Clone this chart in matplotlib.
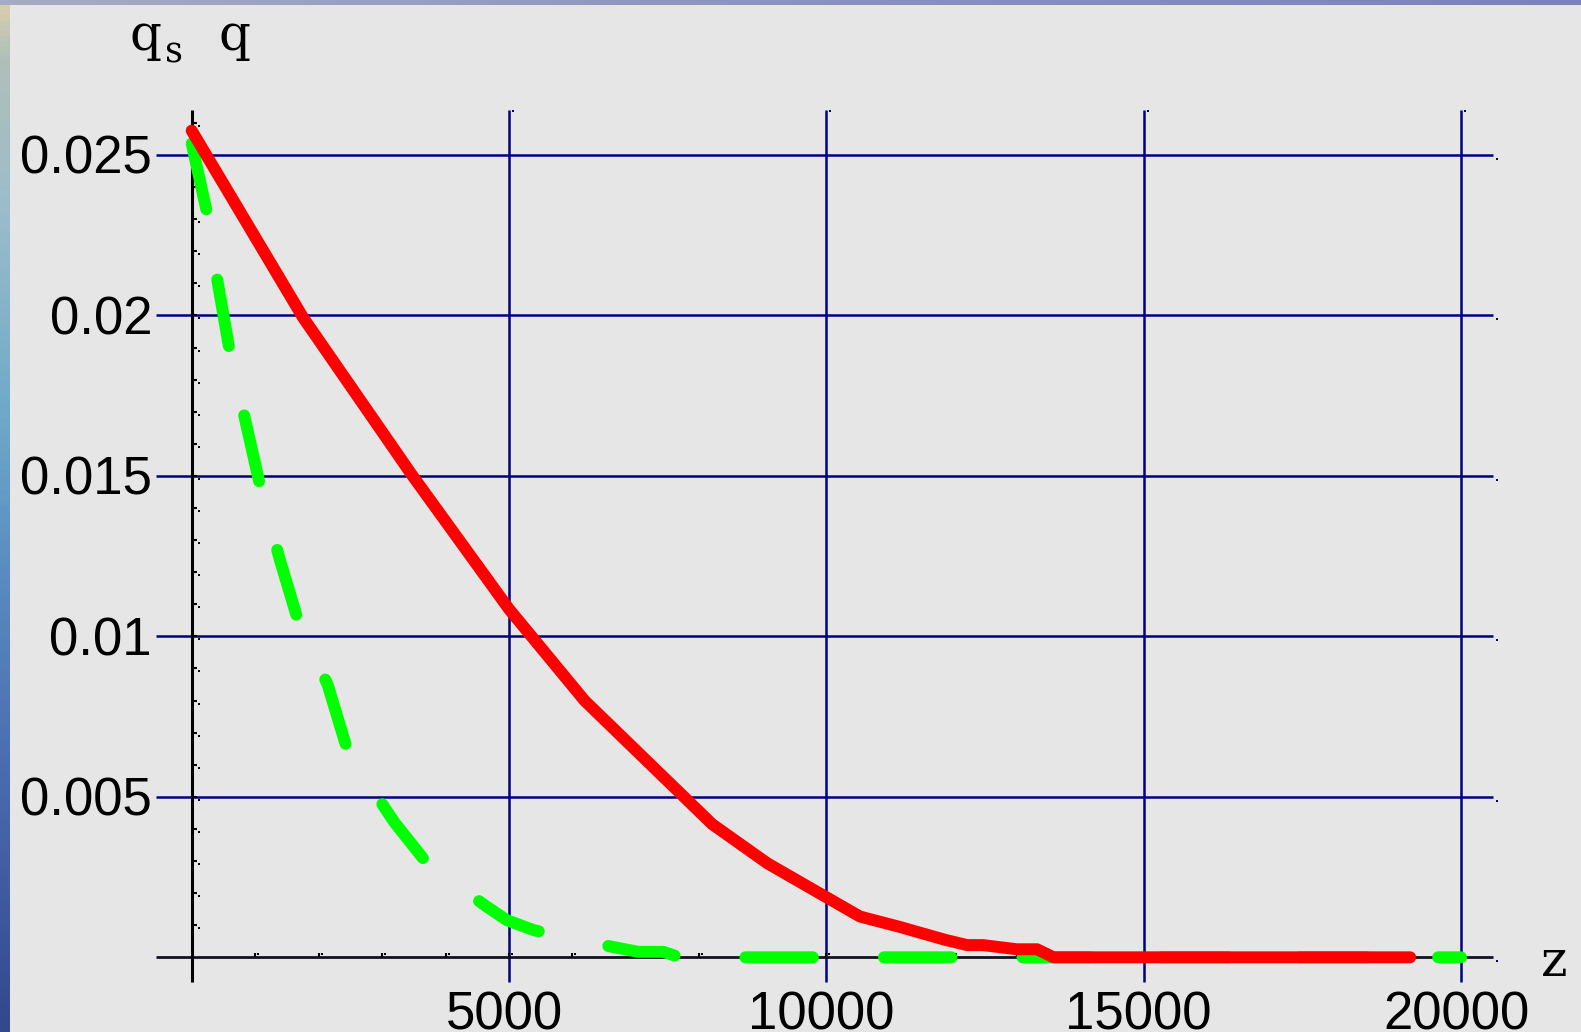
"""q_s and q versus z, Maple-style plot on a slide background."""

import matplotlib

matplotlib.use("Agg")
import matplotlib.pyplot as plt
import numpy as np
from matplotlib.colors import LinearSegmentedColormap

# curve values
red_z = [0, 1750, 3460, 5000, 6190, 8200, 9070, 10530, 11150, 11880,
         12220, 12470, 13000, 13320, 13580, 19200]
red_q = [0.02576, 0.01995, 0.01506, 0.01085, 0.00800, 0.00415, 0.00293,
         0.00127, 0.00095, 0.00054, 0.00038, 0.00038, 0.00025, 0.00025,
         0.0, 0.0]
green_z = [0, 246, 410, 588, 829, 1087, 1380, 1680, 2143, 2468, 3098, 3204,
           3728, 4648, 4963, 5383, 5646, 6618, 7037, 7431, 7694, 20000]
green_q = [0.02536, 0.02316, 0.02103, 0.01901, 0.01687, 0.01461, 0.01245,
           0.01046, 0.00849, 0.00636, 0.00449, 0.00418, 0.00288, 0.00158,
           0.00116, 0.00085, 0.00073, 0.00033, 0.00017, 0.00017, 0.0, 0.0]
x_ticks = [5000, 10000, 15000, 20000]
x_labels = ["5000", "10000", "15000", "20000"]
y_ticks = [0.005, 0.01, 0.015, 0.02, 0.025]
y_labels = ["0.005", "0.01", "0.015", "0.02", "0.025"]

W, H = 1581, 1032
X0, SX = 191.7, 0.063465      # px of z=0, px per z unit
Y0, SY = 957.3, 32092.0       # px of q=0, px per q unit


def zx(px):
    return (px - X0) / SX


def qy(py):
    return (Y0 - py) / SY


fig = plt.figure(figsize=(W / 100, H / 100), dpi=100, facecolor="#e6e6e6")

# slide background bits: sea strip at left, band on top
strip = fig.add_axes([0, 0, 10 / W, 1])
sea = LinearSegmentedColormap.from_list(
    "sea", [(0, "#d9cfae"), (0.05, "#b0c0b8"), (0.2, "#9cbccb"), (0.4, "#6fa9c8"),
            (0.55, "#5b8cc0"), (0.75, "#4a6cae"), (1, "#34488c")])
strip.imshow(np.linspace(0, 1, 200)[:, None], cmap=sea, aspect="auto")
strip.axis("off")
band = fig.add_axes([0, 1 - 5 / H, 1, 5 / H])
top = LinearSegmentedColormap.from_list("top", ["#a4acc4", "#8a92c0", "#7b82bb"])
band.imshow(np.linspace(0, 1, 200)[None, :], cmap=top, aspect="auto")
band.axis("off")

ax = fig.add_axes([0, 0, 1, 1])
ax.set_xlim(zx(0), zx(W))
ax.set_ylim(qy(H), qy(0))
ax.axis("off")
ax.patch.set_alpha(0)

navy = "#000080"
left, right = zx(156), zx(1493)
bottom, upper = qy(982), qy(110)
ax.hlines(y_ticks, left, right, color=navy, lw=1.8, zorder=1)
ax.vlines(x_ticks, bottom, upper, color=navy, lw=1.8, zorder=1)
ax.hlines(0, left, right, color="#111122", lw=2.0, zorder=2)
ax.vlines(0, bottom, upper, color="black", lw=2.2, zorder=2)

# little Maple tick marks and dots
minor_q = np.arange(1, 27) * 0.001
ax.hlines(minor_q, 0, 5 / SX, color="black", lw=1.5, zorder=2)
ax.scatter(np.full(minor_q.size, 7 / SX), minor_q - 3 / SY, s=3, marker="s",
           color="black", lw=0, zorder=2)
minor_z = np.arange(1, 21) * 1000
ax.vlines(minor_z, 0, 4 / SY, color="black", lw=1.5, zorder=2)
ax.scatter(minor_z + 3 / SX, np.full(minor_z.size, 3 / SY), s=3, marker="s",
           color="black", lw=0, zorder=2)
ax.scatter(np.full(len(y_ticks) + 1, zx(1497)), np.r_[y_ticks, 0] - 4 / SY,
           s=4, marker="s", color=navy, lw=0, zorder=2)
ax.scatter(np.array(x_ticks) + 4 / SX, np.full(len(x_ticks), qy(111)),
           s=4, marker="s", color=navy, lw=0, zorder=2)

ax.plot(green_z, green_q, color="#00ff00", lw=8.6, linestyle=(0, (5.65, 5.95)),
        dash_capstyle="round", solid_joinstyle="round", zorder=3)
ax.plot(red_z, red_q, color="#ff0000", lw=8.6, solid_capstyle="round",
        solid_joinstyle="round", zorder=4)

tick_font = dict(family=["Liberation Sans", "DejaVu Sans"], fontsize=38, color="black")
for value, label in zip(y_ticks, y_labels):
    ax.text(zx(152), value - 19 / SY, label, ha="right", va="baseline", **tick_font)
for value, label in zip(x_ticks, x_labels):
    ax.text(value - 5 / SX, qy(1030), label, ha="center", va="baseline", **tick_font)

serif = ["DejaVu Serif"]
ax.text(zx(130), qy(50), "q", family=serif, fontsize=36, va="baseline")
ax.text(zx(165), qy(63), "s", family=serif, fontsize=25, va="baseline")
ax.text(zx(218), qy(50), "q", family=serif, fontsize=36, va="baseline")
ax.text(zx(1541), qy(976), "z", family=serif, fontsize=36, va="baseline")

fig.savefig("out.png", dpi=100, facecolor=fig.get_facecolor())
